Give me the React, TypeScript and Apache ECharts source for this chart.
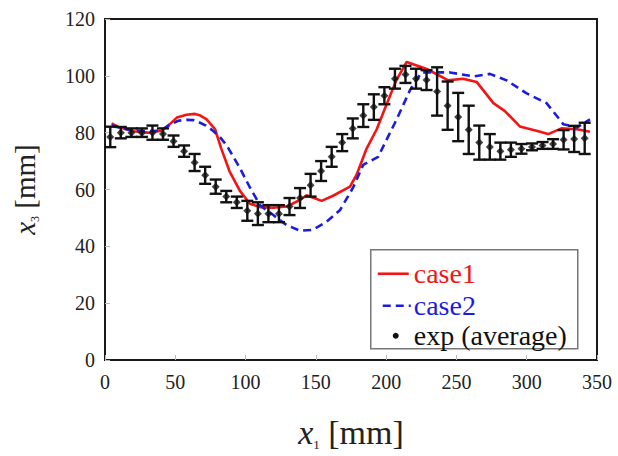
import React, { useEffect, useRef } from "react";
import * as echarts from "echarts";

// experimental points (x1 mm, mean x3 mm, half error bar)
const expX = [3.75, 11.25, 18.75, 26.25, 33.75, 41.25, 48.75, 56.25, 63.75, 71.25,
  78.75, 86.25, 93.75, 101.25, 108.75, 116.25, 123.75, 131.25, 138.75, 146.25,
  153.75, 161.25, 168.75, 176.25, 183.75, 191.25, 198.75, 206.25, 213.75, 221.25,
  228.75, 236.25, 243.75, 251.25, 258.75, 266.25, 273.75, 281.25, 288.75, 296.25,
  303.75, 311.25, 318.75, 326.25, 333.75, 341.25];
const expMean = [78.5, 80, 80, 80, 80, 79.5, 77, 73.5, 69.5, 65,
  61, 57.5, 55.5, 52.5, 51.5, 51.5, 51.5, 54, 57, 61.5,
  66.5, 71.5, 76.5, 81.5, 86, 89, 93, 99, 100.5, 99,
  98.5, 94.5, 89.5, 85.5, 81, 76.5, 75, 73.5, 74, 74.3,
  75, 75.5, 76, 77.5, 77.8, 78];
const expErr = [3.6, 2, 1.5, 1.5, 2.5, 2, 2, 2, 3, 3,
  2.5, 2, 2, 3.5, 4, 3, 3, 3, 3.5, 4,
  3.5, 3.5, 3, 3.5, 4, 4.5, 3, 3.5, 3, 3.5,
  3.5, 8.5, 8.5, 8.5, 8.5, 6, 4.5, 3, 2.5, 1.7,
  1.2, 1.2, 1.7, 3.4, 4.6, 5.5];

// simulation case1 (x1, x3)
const case1X = [4.7, 10.6, 20.5, 30.3, 40.2, 46.1, 51.1, 58, 63.9, 67.9, 72.3, 78.3, 82.7, 88.6, 96,
  103.1, 110.4, 119.7, 129.1, 138.7, 143.4, 154.1, 162.2, 174.3, 179, 186.1, 193.3, 200.2, 207.2,
  214.6, 228.9, 244.2, 254.6, 264.5, 276.3, 284.5, 295.1, 306.9, 315.3, 324.7, 335.6, 345];
const case1Y = [83.3, 81.8, 80.5, 80, 80.7, 83, 85.3, 86.3, 86.6, 86, 84.7, 81.2, 74.4, 66.4, 59.5,
  55, 53.8, 53.6, 54, 56.3, 58, 56, 57.8, 61, 65.2, 74.4, 81.2, 89.8, 98.4,
  104.9, 102.4, 98.4, 99, 97.8, 90.4, 87.6, 82.2, 80.7, 79.5, 81.5, 81.2, 80.3];

// simulation case2 (x1, x3)
const case2X = [4.7, 12.6, 20.5, 30.3, 39.2, 47.1, 52.1, 58, 63, 67.6, 71.8, 76.8, 81.7, 86.6, 96,
  103.1, 110.4, 119.7, 129.1, 138.7, 147.9, 157.8, 167.1, 176.5, 183.7, 194.3, 207.5, 217, 225.2,
  245.4, 262, 273.8, 285.7, 300, 314.1, 326, 335.6, 345];
const case2Y = [82.6, 81.5, 80.7, 80.5, 80.7, 83, 84.2, 84.5, 84.4, 83.5, 82.5, 80.7, 78.5, 75.5, 67.5,
  60.7, 54.4, 51, 47.5, 45.5, 45.8, 48.7, 52.7, 60.7, 68.7, 71.5, 84.7, 95, 101.2,
  101.2, 99.8, 100.7, 98.4, 93.8, 90.4, 83, 81.8, 84.7];

const xTicks = { min: 0, max: 350, interval: 50 };
const yTicks = { min: 0, max: 120, interval: 20 };
const legendNames = ["case1", "case2", "exp (average)"];

const RED = "#f51414";
const BLUE = "#1c1ce0";
const FONT = "Liberation Serif, Times New Roman, serif";

export default function App() {
  const ref = useRef<HTMLDivElement>(null);
  useEffect(() => {
    if (!ref.current) return;
    const chart = echarts.init(ref.current, null, { renderer: "svg" });
    const c1 = case1X.map((x, i) => [x, case1Y[i]]);
    const c2 = case2X.map((x, i) => [x, case2Y[i]]);
    const pts = expX.map((x, i) => [x, expMean[i]]);
    const bars = expX.map((x, i) => [x, expMean[i] - expErr[i], expMean[i] + expErr[i]]);

    chart.setOption({
      animation: false,
      backgroundColor: "#fff",
      grid: {
        left: 105, right: 21, top: 19, bottom: 89,
        show: true, borderColor: "#1a1a1a", borderWidth: 2, backgroundColor: "transparent",
      },
      xAxis: {
        type: "value", min: xTicks.min, max: xTicks.max, interval: xTicks.interval,
        axisLine: { show: false },
        axisTick: { show: true, inside: true, length: 5, lineStyle: { color: "#bbb", width: 1 } },
        splitLine: { show: false },
        axisLabel: { color: "#222", fontFamily: FONT, fontSize: 20, margin: 12 },
        name: "{i|x}{s|1}{n| [mm]}",
        nameLocation: "middle",
        nameGap: 53,
        nameTextStyle: {
          color: "#222",
          rich: {
            i: { fontFamily: FONT, fontStyle: "italic", fontSize: 34, lineHeight: 38, color: "#222" },
            s: { fontFamily: FONT, fontSize: 13, lineHeight: 13, verticalAlign: "bottom", color: "#222" },
            n: { fontFamily: FONT, fontSize: 34, lineHeight: 38, color: "#222" },
          },
        },
      },
      yAxis: {
        type: "value", min: yTicks.min, max: yTicks.max, interval: yTicks.interval,
        axisLine: { show: false },
        axisTick: { show: true, inside: true, length: 5, lineStyle: { color: "#bbb", width: 1 } },
        splitLine: { show: false },
        axisLabel: { color: "#222", fontFamily: FONT, fontSize: 20, margin: 10 },
        name: "{i|x}{s|3}{n| [mm]}",
        nameLocation: "middle",
        nameRotate: 90,
        nameGap: 64,
        nameTextStyle: {
          color: "#222",
          rich: {
            i: { fontFamily: FONT, fontStyle: "italic", fontSize: 29, lineHeight: 32, color: "#222" },
            s: { fontFamily: FONT, fontSize: 12, lineHeight: 12, verticalAlign: "bottom", color: "#222" },
            n: { fontFamily: FONT, fontSize: 29, lineHeight: 32, color: "#222" },
          },
        },
      },
      series: [
        {
          name: legendNames[0], type: "line", data: c1, symbol: "none", z: 2,
          lineStyle: { color: RED, width: 2.6 },
        },
        {
          name: legendNames[1], type: "line", data: c2, symbol: "none", z: 2,
          lineStyle: { color: BLUE, width: 2.6, type: [8, 5] },
        },
        {
          name: "errorbars", type: "custom", data: bars, z: 3,
          encode: { x: 0, y: [1, 2] },
          renderItem: (_p: any, api: any) => {
            const x = api.value(0);
            const lo = api.coord([x, api.value(1)]);
            const hi = api.coord([x, api.value(2)]);
            const cw = 6;
            const style = { stroke: "#111", lineWidth: 2.4 };
            return {
              type: "group",
              children: [
                { type: "line", shape: { x1: lo[0], y1: lo[1], x2: hi[0], y2: hi[1] }, style },
                { type: "line", shape: { x1: lo[0] - cw, y1: lo[1], x2: lo[0] + cw, y2: lo[1] }, style },
                { type: "line", shape: { x1: hi[0] - cw, y1: hi[1], x2: hi[0] + cw, y2: hi[1] }, style },
              ],
            };
          },
        },
        {
          name: legendNames[2], type: "scatter", data: pts, symbol: "diamond", symbolSize: 8, z: 4,
          itemStyle: { color: "#111" },
        },
      ],
      graphic: [
        {
          type: "group", left: 370, top: 249, z: 100,
          children: [
            { type: "rect", shape: { x: 0, y: 0, width: 207, height: 99 }, style: { fill: "#fff", stroke: "#777", lineWidth: 1.5 } },
            { type: "line", shape: { x1: 7, y1: 24, x2: 38, y2: 24 }, style: { stroke: RED, lineWidth: 2.6 } },
            { type: "line", shape: { x1: 12, y1: 56, x2: 40, y2: 56 }, style: { stroke: BLUE, lineWidth: 2.6, lineDash: [8, 5] } },
            { type: "circle", shape: { cx: 25, cy: 86, r: 3 }, style: { fill: "#111" } },
            { type: "text", x: 43, y: 24, style: { text: legendNames[0], fill: RED, font: `28px ${FONT}`, verticalAlign: "middle", align: "left" } },
            { type: "text", x: 43, y: 56, style: { text: legendNames[1], fill: BLUE, font: `28px ${FONT}`, verticalAlign: "middle", align: "left" } },
            { type: "text", x: 43, y: 86, style: { text: legendNames[2], fill: "#111", font: `28px ${FONT}`, verticalAlign: "middle", align: "left" } },
          ],
        },
      ],
    });
    return () => chart.dispose();
  }, []);
  return <div ref={ref} style={{ position: "fixed", left: 0, top: 0, width: 618, height: 456 }} />;
}
